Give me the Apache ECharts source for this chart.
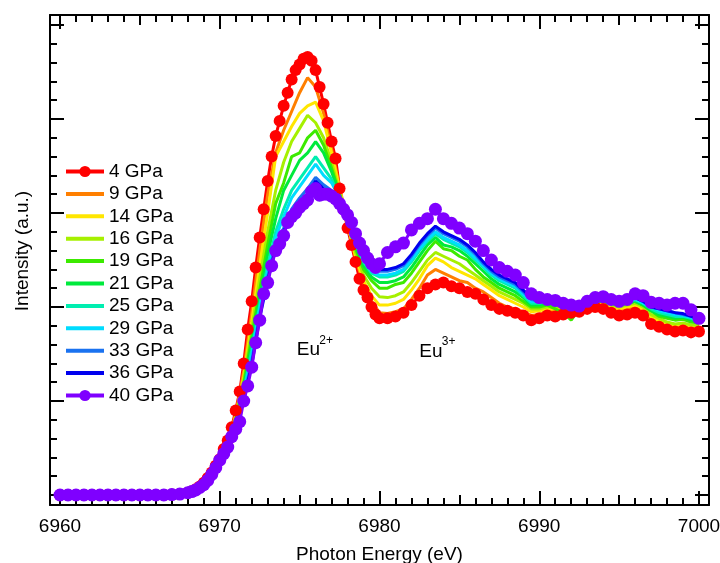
<!DOCTYPE html>
<html><head><meta charset="utf-8">
<script src="https://cdn.jsdelivr.net/npm/echarts@6/dist/echarts.min.js"></script>
<style>html,body{margin:0;padding:0;background:#fff}#c{width:720px;height:563px}</style>
</head><body><div id="c"></div>
<script>
const FONT = '"Liberation Sans", Arial, Helvetica, sans-serif';

// ---- data ----
const seriesNames = ['4 GPa','9 GPa','14 GPa','16 GPa','19 GPa','21 GPa','25 GPa','29 GPa','33 GPa','36 GPa','40 GPa'];
const seriesColors = ['#ff0000','#ff7f00','#ffe600','#a6f000','#3cea00','#00ea3c','#00eeb0','#00dcff','#1a72f0','#0000ee','#7f00ff'];

// axis ticks
const xTickLabels = [6960, 6970, 6980, 6990, 7000];
const xMidTicks = [6965, 6975, 6985, 6995];
const yMajorTicks = [0, 0.5, 1, 1.5, 2, 2.5];
const xMinorTicks = [];
for (let v = xTickLabels[0]; v <= xTickLabels[xTickLabels.length - 1]; v++) xMinorTicks.push(v);
const yMinorTicks = [];
for (let k = 0; k <= 25; k++) yMinorTicks.push(+(k * 0.1).toFixed(1));

// energy grid for the two marker series (eV)
const xDense = [6960,6960.5,6961,6961.5,6962,6962.5,6963,6963.5,6964,6964.5,6965,6965.5,6966,6966.5,6967,6967.5,6968,
 6968.25,6968.5,6968.75,6969,6969.25,6969.5,6969.75,6970,6970.25,6970.5,6970.75,6971,6971.25,6971.5,6971.75,6972,
 6972.25,6972.5,6972.75,6973,6973.25,6973.5,6973.75,6974,6974.25,6974.5,6974.75,6975,6975.25,6975.5,6975.75,6976,
 6976.25,6976.5,6976.75,6977,6977.25,6977.5,6977.75,6978,6978.25,6978.5,6978.75,6979,6979.25,6979.5,6979.75,6980,
 6980.5,6981,6981.5,6982,6982.5,6983,6983.5,6984,6984.5,6985,6985.5,6986,6986.5,6987,6987.5,6988,6988.5,6989,6989.5,6990,
 6990.5,6991,6991.5,6992,6992.5,6993,6993.5,6994,6994.5,6995,6995.5,6996,6996.5,6997,6997.5,6998,6998.5,6999,6999.5,7000];

// energy grid for the line-only series (eV)
const xLine = [6960,6962,6964,6966,6967,6968,6968.5,6969,6969.5,6970,
 6970.5,6971,6971.5,6972,6972.5,6973,6973.5,6974,6974.5,6975,6975.5,6976,6976.5,6977,6977.5,6978,6978.5,6979,6979.5,6980,
 6980.5,6981,6981.5,6982,6982.5,6983,6983.5,6984,6984.5,6985,6985.5,6986,6986.5,6987,6987.5,6988,6988.5,6989,6989.5,6990,
 6990.5,6991,6991.5,6992,6992.5,6993,6993.5,6994,6994.5,6995,6995.5,6996,6996.5,6997,6997.5,6998,6998.5,6999,6999.5,7000];

const y4 = [0,0,0,0,0,0,0,0,0,0,0,0,0,0,0.002,0.005,0.012,
 0.02,0.03,0.045,0.065,0.09,0.12,0.155,0.19,0.245,0.29,0.36,0.45,0.55,0.70,0.88,1.03,
 1.21,1.37,1.52,1.67,1.80,1.91,1.99,2.07,2.14,2.21,2.26,2.29,2.32,2.33,2.31,2.26,
 2.17,2.08,1.98,1.88,1.79,1.63,1.52,1.42,1.33,1.24,1.15,1.09,1.05,1.0,0.96,0.94,
 0.94,0.95,0.97,1.01,1.06,1.10,1.12,1.13,1.11,1.10,1.08,1.07,1.04,1.01,0.99,0.98,0.97,0.955,0.93,0.94,
 0.955,0.95,0.96,0.97,0.975,0.99,1.0,0.99,0.97,0.955,0.96,0.97,0.955,0.91,0.895,0.88,0.87,0.875,0.865,0.87];

const y40 = [0,0,0,0,0,0,0,0,0,0,0,0,0,0,0.002,0.005,0.012,
 0.018,0.027,0.04,0.055,0.078,0.11,0.145,0.185,0.22,0.255,0.31,0.35,0.39,0.50,0.58,0.68,
 0.81,0.93,1.07,1.13,1.22,1.30,1.335,1.38,1.45,1.48,1.50,1.53,1.55,1.57,1.615,1.63,
 1.595,1.60,1.60,1.59,1.575,1.55,1.52,1.49,1.45,1.39,1.34,1.30,1.26,1.23,1.21,1.23,
 1.29,1.32,1.34,1.41,1.445,1.47,1.52,1.47,1.445,1.42,1.39,1.35,1.30,1.25,1.21,1.19,1.17,1.13,1.07,1.05,
 1.04,1.035,1.02,1.01,1.005,1.03,1.05,1.055,1.04,1.03,1.04,1.07,1.06,1.025,1.02,1.01,1.02,1.02,0.985,0.94];

const y9 = [0,0,0,0,0.002,0.012,0.028,0.06,0.115,0.185,
 0.28,0.43,0.66,0.97,1.30,1.60,1.82,1.94,2.04,2.14,2.22,2.17,2.03,1.84,1.64,1.44,1.26,1.12,1.03,0.97,
 0.965,0.975,0.99,1.04,1.10,1.17,1.20,1.18,1.16,1.14,1.13,1.10,1.08,1.05,1.02,1.0,0.99,0.975,0.955,0.96,
 0.98,0.975,0.985,0.99,1.0,1.02,1.06,1.02,0.99,0.98,0.99,1.0,0.98,0.93,0.91,0.895,0.885,0.89,0.88,0.885];

const y14 = [0,0,0,0,0.002,0.012,0.028,0.06,0.115,0.185,
 0.275,0.42,0.63,0.92,1.22,1.50,1.80,1.88,1.96,2.03,2.07,2.09,1.99,1.82,1.63,1.44,1.27,1.14,1.06,1.01,
 1.01,1.02,1.04,1.09,1.15,1.22,1.26,1.24,1.21,1.19,1.17,1.15,1.12,1.09,1.06,1.04,1.02,1.0,0.975,0.98,
 0.99,0.99,1.0,0.985,1.0,1.02,1.03,1.02,1.0,0.99,1.0,1.01,0.99,0.95,0.925,0.91,0.9,0.905,0.895,0.895];

const y16 = [0,0,0,0,0.002,0.012,0.028,0.06,0.115,0.185,
 0.27,0.41,0.61,0.88,1.15,1.40,1.62,1.77,1.88,1.95,2.02,1.98,1.90,1.77,1.61,1.44,1.29,1.17,1.10,1.055,
 1.05,1.06,1.08,1.13,1.19,1.25,1.29,1.27,1.25,1.23,1.20,1.17,1.14,1.11,1.08,1.06,1.04,1.02,0.99,0.99,
 1.0,1.0,1.01,0.99,1.0,1.02,1.03,1.03,1.01,1.0,1.01,1.02,1.0,0.96,0.94,0.92,0.91,0.915,0.905,0.9];

const y19 = [0,0,0,0,0.002,0.012,0.028,0.06,0.115,0.185,
 0.265,0.40,0.59,0.84,1.09,1.33,1.55,1.66,1.80,1.82,1.90,1.94,1.86,1.74,1.60,1.45,1.31,1.20,1.14,1.10,
 1.10,1.12,1.13,1.18,1.24,1.30,1.35,1.31,1.30,1.27,1.25,1.20,1.16,1.13,1.10,1.08,1.06,1.03,1.0,1.0,
 1.01,0.99,0.97,0.93,0.99,1.02,1.03,1.03,1.02,1.01,1.02,1.03,1.01,0.98,0.95,0.94,0.93,0.935,0.92,0.915];

const y21 = [0,0,0,0,0.002,0.012,0.028,0.06,0.115,0.185,
 0.262,0.39,0.57,0.80,1.05,1.28,1.47,1.62,1.70,1.78,1.82,1.88,1.82,1.72,1.60,1.46,1.33,1.22,1.16,1.13,
 1.13,1.14,1.16,1.21,1.27,1.33,1.37,1.33,1.32,1.30,1.27,1.23,1.19,1.15,1.12,1.10,1.08,1.05,1.01,1.01,
 1.02,1.01,1.0,0.99,1.0,1.02,1.04,1.03,1.02,1.01,1.02,1.03,1.01,0.98,0.96,0.95,0.94,0.945,0.93,0.92];

const y25 = [0,0,0,0,0.002,0.012,0.028,0.06,0.115,0.185,
 0.26,0.38,0.55,0.77,1.01,1.22,1.40,1.52,1.62,1.68,1.74,1.80,1.74,1.68,1.58,1.47,1.34,1.24,1.18,1.16,
 1.16,1.17,1.19,1.24,1.30,1.35,1.39,1.36,1.34,1.32,1.29,1.25,1.21,1.17,1.14,1.12,1.10,1.06,1.02,1.02,
 1.03,1.02,1.01,1.0,1.01,1.03,1.04,1.04,1.03,1.02,1.03,1.04,1.02,0.99,0.97,0.96,0.95,0.95,0.94,0.925];

const y29 = [0,0,0,0,0.002,0.012,0.028,0.06,0.115,0.185,
 0.258,0.37,0.54,0.74,0.99,1.19,1.37,1.48,1.58,1.64,1.70,1.76,1.70,1.66,1.58,1.48,1.36,1.26,1.19,1.17,
 1.17,1.18,1.20,1.25,1.31,1.36,1.40,1.37,1.35,1.33,1.30,1.26,1.22,1.18,1.15,1.13,1.11,1.07,1.03,1.03,
 1.03,1.02,1.01,1.0,1.01,1.03,1.04,1.04,1.03,1.02,1.03,1.04,1.02,1.0,0.98,0.97,0.96,0.955,0.945,0.93];

const y33 = [0,0,0,0,0.002,0.012,0.028,0.06,0.115,0.185,
 0.256,0.36,0.52,0.71,0.96,1.16,1.33,1.42,1.52,1.58,1.63,1.69,1.65,1.62,1.56,1.48,1.37,1.28,1.21,1.19,
 1.19,1.20,1.22,1.27,1.33,1.38,1.42,1.39,1.37,1.35,1.32,1.28,1.23,1.19,1.16,1.14,1.12,1.08,1.04,1.03,
 1.03,1.02,1.01,1.0,1.01,1.03,1.04,1.04,1.03,1.02,1.03,1.05,1.03,1.0,0.99,0.98,0.97,0.96,0.95,0.935];

const y36 = [0,0,0,0,0.002,0.012,0.028,0.06,0.115,0.185,
 0.255,0.355,0.51,0.69,0.94,1.14,1.31,1.40,1.50,1.56,1.60,1.67,1.63,1.61,1.56,1.49,1.38,1.29,1.22,1.20,
 1.20,1.21,1.23,1.28,1.34,1.39,1.43,1.40,1.38,1.36,1.33,1.29,1.24,1.20,1.17,1.15,1.13,1.09,1.05,1.03,
 1.03,1.02,1.01,1.0,1.01,1.03,1.04,1.04,1.03,1.02,1.03,1.05,1.03,1.0,0.99,0.98,0.97,0.965,0.95,0.94];

const seriesY = [y4, y9, y14, y16, y19, y21, y25, y29, y33, y36, y40];
const seriesX = [xDense, xLine, xLine, xLine, xLine, xLine, xLine, xLine, xLine, xLine, xDense];
const markerSeries = [true,false,false,false,false,false,false,false,false,false,true];
const markerSizes = [12,0,0,0,0,0,0,0,0,0,13];

// annotation labels (data coordinates of the text's left-middle)
const annotations = [
  {text: 'Eu', sup: '2+', x: 6974.82, y: 0.77},
  {text: 'Eu', sup: '3+', x: 6982.49, y: 0.76}
];

// ---- layout ----
const W = 720, H = 563;
const FRAME = {left: 50, top: 15, right: 11, bottom: 58};
const PAD = 10; // px between frame and the data range ends
const dataX0 = xTickLabels[0], dataX1 = xTickLabels[xTickLabels.length - 1];
const dataY0 = yMajorTicks[0], dataY1 = yMajorTicks[yMajorTicks.length - 1];
const plotW = W - FRAME.left - FRAME.right - 2 * PAD;
const plotH = H - FRAME.top - FRAME.bottom - 2 * PAD;
const xPad = PAD * (dataX1 - dataX0) / plotW, yPad = PAD * (dataY1 - dataY0) / plotH;
const xR = {min: dataX0 - xPad, max: dataX1 + xPad};
const yR = {min: dataY0 - yPad, max: dataY1 + yPad};

const chart = echarts.init(document.getElementById('c'), null, {renderer: 'canvas'});

const frameLine = {color: '#000', width: 2};
const tickLine = {color: '#000', width: 2};

function xa(grid, pos, ticks, len, withLine, labels, name) {
  return {
    type: 'value', gridIndex: grid, position: pos, min: xR.min, max: xR.max,
    axisLine: {show: withLine, onZero: false, lineStyle: frameLine},
    axisTick: {show: true, inside: true, length: len, customValues: ticks, lineStyle: tickLine},
    minorTick: {show: false}, splitLine: {show: false}, minorSplitLine: {show: false},
    axisLabel: {show: !!labels, customValues: labels || ticks, fontSize: 19, color: '#000',
      fontFamily: FONT, margin: 12, formatter: v => String(v)},
    name: name || '', nameLocation: 'middle', nameGap: 40,
    nameTextStyle: {fontSize: 19, color: '#000', fontFamily: FONT}
  };
}
function ya(grid, pos, ticks, len, withLine, name, show) {
  return {
    type: 'value', gridIndex: grid, position: pos, min: yR.min, max: yR.max, show: show !== false,
    axisLine: {show: withLine, onZero: false, lineStyle: frameLine},
    axisTick: {show: true, inside: true, length: len, customValues: ticks, lineStyle: tickLine},
    minorTick: {show: false}, splitLine: {show: false}, minorSplitLine: {show: false},
    axisLabel: {show: false},
    name: name || '', nameLocation: 'middle', nameGap: 18, nameRotate: 90,
    nameTextStyle: {fontSize: 19, color: '#000', fontFamily: FONT, padding: [0, 0, 0, 18]}
  };
}

const series = seriesNames.map((name, i) => ({
  name: name, type: 'line', xAxisIndex: 0, yAxisIndex: 0,
  data: seriesX[i].map((x, j) => [x, seriesY[i][j]]),
  symbol: markerSeries[i] ? 'circle' : 'none',
  symbolSize: markerSizes[i],
  showSymbol: markerSeries[i],
  lineStyle: {width: 3, color: seriesColors[i]},
  itemStyle: {color: seriesColors[i]},
  clip: false, z: 2,
  emphasis: {disabled: true},
  animation: false
}));

const gridOpt = Object.assign({containLabel: false, outerBoundsMode: 'none'}, FRAME);

chart.setOption({
  animation: false,
  backgroundColor: '#fff',
  textStyle: {fontFamily: FONT},
  grid: [Object.assign({}, gridOpt), Object.assign({}, gridOpt), Object.assign({}, gridOpt)],
  xAxis: [
    xa(0, 'bottom', xTickLabels, 14, true, xTickLabels, 'Photon Energy (eV)'),
    xa(0, 'top', xTickLabels, 14, true),
    xa(1, 'bottom', xMidTicks, 10, false),
    xa(1, 'top', xMidTicks, 10, false),
    xa(2, 'bottom', xMinorTicks, 7, false),
    xa(2, 'top', xMinorTicks, 7, false)
  ],
  yAxis: [
    ya(0, 'left', yMajorTicks, 14, true, 'Intensity (a.u.)'),
    ya(0, 'right', yMajorTicks, 14, true),
    ya(1, 'left', yMinorTicks, 7, false),
    ya(1, 'right', yMinorTicks, 7, false),
    ya(2, 'left', [], 0, false, '', false)
  ],
  legend: {
    orient: 'vertical', left: 64, top: 162, padding: 0,
    itemWidth: 38, itemHeight: 14, itemGap: 3.4,
    lineStyle: {width: 4},
    textStyle: {fontSize: 19, lineHeight: 19, color: '#000', fontFamily: FONT},
    data: seriesNames.map((n, i) => markerSeries[i] ? {name: n} : {name: n, itemStyle: {opacity: 0}}),
    selectedMode: false
  },
  series: series
});

// annotations placed through the chart's own coordinate conversion
const graphics = [];
annotations.forEach(a => {
  const p = chart.convertToPixel({gridIndex: 0}, [a.x, a.y]);
  graphics.push({type: 'text', x: p[0], y: p[1], z: 100, silent: true,
    style: {text: a.text, fontSize: 19, fontFamily: FONT, fill: '#000', align: 'left', verticalAlign: 'middle'}});
  graphics.push({type: 'text', x: p[0] + 22.5, y: p[1] - 10, z: 100, silent: true,
    style: {text: a.sup, fontSize: 12, fontFamily: FONT, fill: '#000', align: 'left', verticalAlign: 'middle'}});
});
chart.setOption({graphic: graphics});
</script>
</body></html>
